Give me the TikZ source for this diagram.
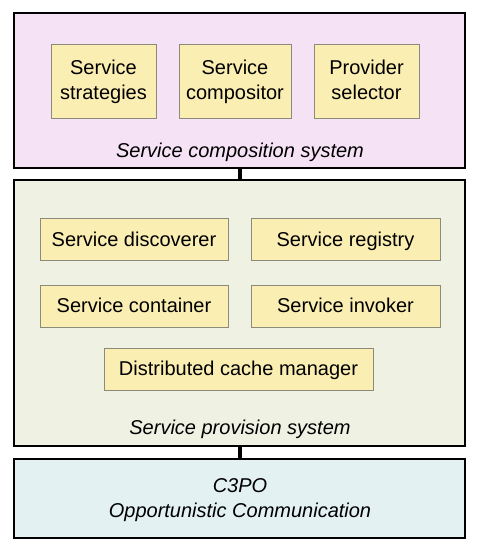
\documentclass[tikz,border=0pt]{standalone}
\usepackage{fontspec}
\setmainfont{Liberation Sans}
\definecolor{pinkbg}{HTML}{F5E2F5}
\definecolor{greenbg}{HTML}{EFF1E3}
\definecolor{bluebg}{HTML}{E3F1F3}
\definecolor{yelbox}{HTML}{FAEEB2}
\definecolor{yelborder}{HTML}{8C8A7A}
\begin{document}
\begin{tikzpicture}[x=1pt,y=-1pt,
  layer/.style={draw=black,line width=1.6pt},
  comp/.style={draw=yelborder,fill=yelbox,line width=0.8pt},
  lbl/.style={font=\fontsize{20}{25}\selectfont,align=center,inner sep=0pt},
  ilbl/.style={font=\fontsize{20}{25}\selectfont\itshape,align=center,inner sep=0pt}]
\useasboundingbox (0,0) rectangle (478,550);
% connectors
\coordinate (c1a) at (240,168);
\coordinate (c1b) at (240,180);
\coordinate (c2a) at (240,446);
\coordinate (c2b) at (240,459);
\draw[line width=4.5pt] (c1a) -- (c1b);
\draw[line width=4.5pt] (c2a) -- (c2b);
% layers
\draw[layer,fill=pinkbg] (14,13) rectangle (465,168);
\draw[layer,fill=greenbg] (14,180) rectangle (465,446);
\draw[layer,fill=bluebg] (14,459) rectangle (465,538);
% top components (baselines 74 and 99 -> centre 81.5 with struts)
\draw[comp] (51,44) rectangle (156,118);
\node[lbl] (ss) at (103.5,81.5) {\strut Service\\\strut strategies};
\draw[comp] (179,44) rectangle (291,118);
\node[lbl] (sc) at (235,81.5) {\strut Service\\\strut compositor};
\draw[comp] (314,44) rectangle (419,118);
\node[lbl] (ps) at (366.5,81.5) {\strut Provider\\\strut selector};
\node[ilbl,anchor=base] (comp) at (240,157) {Service composition system};
% middle components
\draw[comp] (40,218) rectangle (228,260);
\node[lbl,anchor=base] (sd) at (134,246.5) {Service discoverer};
\draw[comp] (251,218) rectangle (440,260);
\node[lbl,anchor=base] (sr) at (345.5,246.5) {Service registry};
\draw[comp] (40,285) rectangle (228,327);
\node[lbl,anchor=base] (sco) at (134,312) {Service container};
\draw[comp] (251,285) rectangle (440,327);
\node[lbl,anchor=base] (si) at (345.5,312) {Service invoker};
\draw[comp] (104,348) rectangle (373,390);
\node[lbl,anchor=base] (dcm) at (238.5,375.5) {Distributed cache manager};
\node[ilbl,anchor=base] (prov) at (240,434) {Service provision system};
% bottom (baselines 492 and 517)
\node[ilbl] (c3po) at (240,499.5) {\strut C3PO\\\strut Opportunistic Communication};
\end{tikzpicture}
\end{document}
